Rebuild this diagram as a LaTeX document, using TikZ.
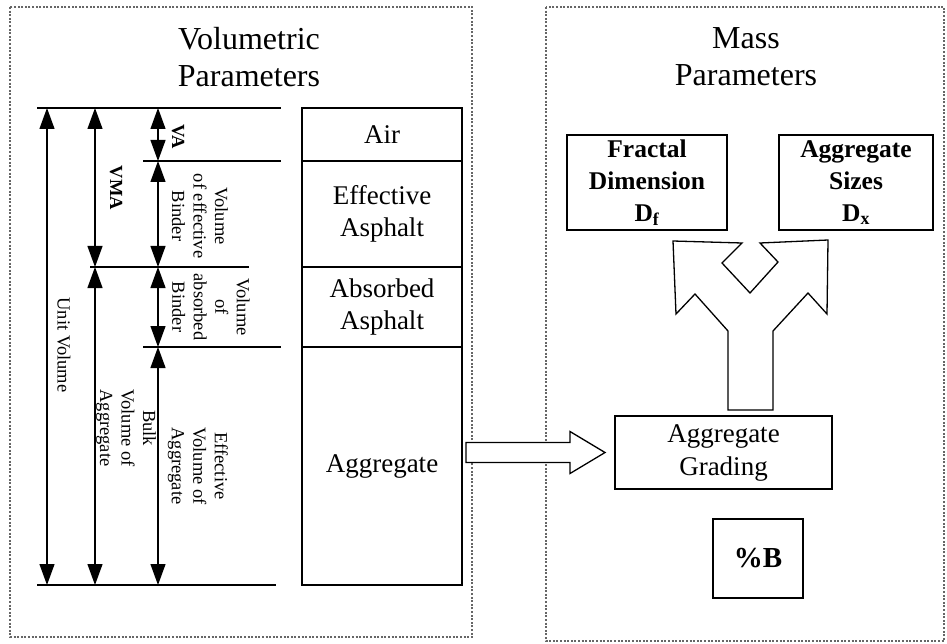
\documentclass[tikz,border=0pt]{standalone}
\usepackage{fontspec}
\setmainfont{Liberation Serif}
\usetikzlibrary{arrows.meta, positioning, calc}

\begin{document}
\begin{tikzpicture}[x=1pt, y=-1pt,
    panel/.style={draw=black!60, line width=1.6pt, dash pattern=on 2pt off 1.6pt},
    layer/.style={draw, line width=1.3pt, minimum width=160pt, inner sep=0pt,
                  outer sep=0pt, font=\fontsize{27}{32}\selectfont, align=center},
    bbox/.style={draw, line width=1.3pt, inner sep=0pt, align=center,
                 font=\bfseries\fontsize{25.5}{32}\selectfont},
    dim/.style={{Triangle[length=21pt, width=15pt]}-{Triangle[length=21pt, width=15pt]},
                line width=1.2pt},
    lvl/.style={line width=1.3pt},
    side/.style={rotate=-90, inner sep=0pt, align=center,
                 font=\fontsize{18.5}{21.5}\selectfont},
    ttl/.style={font=\fontsize{32}{37}\selectfont, align=center},
    hollow/.style={draw, line width=1.3pt, fill=white, line join=miter}
  ]
  \useasboundingbox (0,0) rectangle (947,644);

  % dotted panels
  \draw[panel] (10,7) rectangle (472,637);
  \draw[panel] (546,7) rectangle (944,641);
  \node[ttl] (voltitle) at (249,57) {Volumetric\\Parameters};
  \node[ttl] (masstitle) at (746,57) {Mass\\Parameters};

  % phase column
  \node[layer, minimum height=53pt] (air) at (382,134.5) {Air};
  \node[layer, minimum height=106pt, below=0pt of air] (eff) {Effective\\Asphalt};
  \node[layer, minimum height=80pt, below=0pt of eff] (abs) {Absorbed\\Asphalt};
  \node[layer, minimum height=238pt, below=0pt of abs] (agg) {Aggregate};

  % level lines
  \foreach \xa/\xb/\lv in {37/281/air.north, 143/281/air.south, 90/249/eff.south,
                           143/281/abs.south, 37/276/agg.south}
    \draw[lvl] (\xa,0 |- \lv) -- (\xb,0 |- \lv);

  % dimension arrows
  \coordinate (c1) at (47,0);
  \coordinate (c2) at (95,0);
  \coordinate (c3) at (158,0);
  \draw[dim] (c1 |- air.north) -- (c1 |- agg.south);
  \draw[dim] (c2 |- air.north) -- (c2 |- eff.south);
  \draw[dim] (c2 |- eff.south) -- (c2 |- agg.south);
  \foreach \lay in {air, eff, abs, agg}
    \draw[dim] (c3 |- \lay.north) -- (c3 |- \lay.south);

  \node[side] (unitlbl) at (64,345) {Unit Volume};
  \node[side, font=\bfseries\fontsize{18.5}{21}\selectfont] (vmalbl) at (116,188) {VMA};
  \node[side, font=\bfseries\fontsize{18.5}{21}\selectfont] (valbl) at (178,137) {VA};
  \node[side] (efblbl) at (200,216) {Volume\\of effective\\Binder};
  \node[side] (abblbl) at (211,307) {Volume\\of\\absorbed\\Binder};
  \node[side] (bulklbl) at (126,428) {Bulk\\Volume of\\Aggregate};
  \node[side] (effagglbl) at (198,466) {Effective\\Volume of\\Aggregate};

  % mass side
  \node[bbox, minimum width=160pt, minimum height=95pt] (frac) at (647,182.5)
    {Fractal\\Dimension\\D\textsubscript{f}};
  \node[bbox, minimum width=154pt, minimum height=95pt] (sizes) at (856,182.5)
    {Aggregate\\Sizes\\D\textsubscript{x}};
  \node[draw, line width=1.3pt, minimum width=217pt, minimum height=73pt, inner sep=0pt,
        align=center, font=\fontsize{27}{33}\selectfont] (grad) at (723.5,452.5)
    {Aggregate\\Grading};
  \node[bbox, minimum width=90pt, minimum height=79pt,
        font=\bfseries\fontsize{29}{31}\selectfont] (pctb) at (758,558.5) {\%B};

  % fork arrow
  \draw[hollow] (728,410) -- (773,410) -- (773,331) -- (808,293) -- (827,314)
    -- (828,240) -- (760,243) -- (778,262) -- (750,293) -- (722,263) -- (742,243)
    -- (673,241) -- (676,314) -- (695,294) -- (728,331) -- cycle;

  % transfer arrow
  \draw[hollow] ($(agg.east |- grad.west)+(4,-10)$) -- ++(104,0) -- ++(0,-11)
    -- ++(35,21) -- ++(-35,21) -- ++(0,-11) -- ++(-104,0) -- cycle;
\end{tikzpicture}
\end{document}
